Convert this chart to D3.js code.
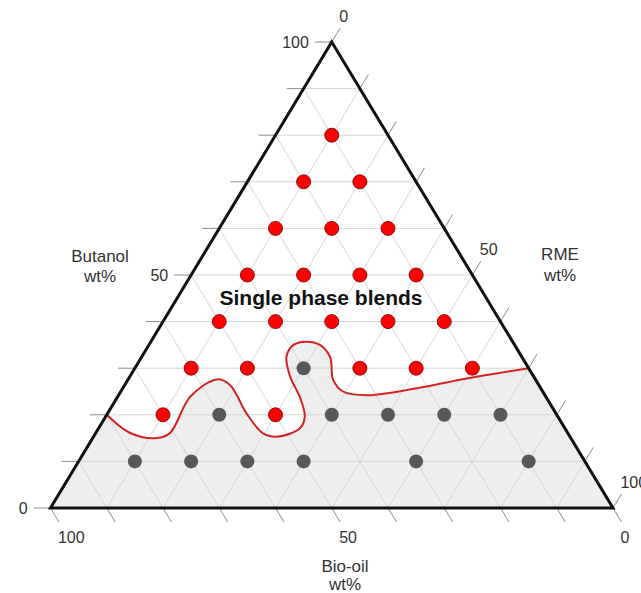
<!DOCTYPE html>
<html>
<head>
<meta charset="utf-8">
<script src="https://cdn.jsdelivr.net/npm/d3@7"></script>
<style>
body { margin: 0; background: #fff; }
text { font-family: "Liberation Sans", Arial, sans-serif; fill: #333; }
</style>
</head>
<body>
<div id="chart"></div>
<script>
// every point is [butanol wt%, RME wt%], bio-oil is what is left
var singlePhase = [
  [80, 10],
  [70, 10], [70, 20],
  [60, 10], [60, 20], [60, 30],
  [50, 10], [50, 20], [50, 30], [50, 40],
  [40, 10], [40, 20], [40, 30], [40, 40], [40, 50],
  [30, 10], [30, 20], [30, 40], [30, 50], [30, 60],
  [20, 10], [20, 30]
];
var twoPhase = [
  [30, 30],
  [20, 20], [20, 40], [20, 50], [20, 60], [20, 70],
  [10, 10], [10, 20], [10, 30], [10, 40], [10, 60], [10, 80]
];
// phase boundary, left edge to right edge
var boundary = [
  [20, 0], [16.1, 6.1], [15, 11.4], [16.1, 13.2], [23.9, 12.9], [27.6, 15.8],
  [26.4, 18.7], [20.3, 24.7], [16, 29.8], [15.3, 32.6], [17.1, 35.8], [19.6, 35.4],
  [23.6, 32.6], [28.2, 28.5], [32.5, 25.7], [35, 25.7], [35.7, 27.7], [35, 30.4],
  [32.4, 33.5], [27.5, 36.5], [25, 39.5], [24.2, 44.1], [25.7, 52.3], [27.8, 60.1],
  [30, 70]
];
var gridSteps = d3.range(10, 100, 10);
var tickSteps = d3.range(0, 101, 10);
var tickLabels = [0, 50, 100];

var width = 641, height = 593;
var x = d3.scaleLinear().domain([0, 100]).range([50.5, 613]);
var y = d3.scaleLinear().domain([0, 100]).range([508, 42]);

// ternary -> screen
function pt(b, r) { return [x(r + b / 2), y(b)]; }

var svg = d3.select("#chart").append("svg")
  .attr("width", width)
  .attr("height", height);

var curve = d3.line()
  .x(d => pt(d[0], d[1])[0])
  .y(d => pt(d[0], d[1])[1])
  .curve(d3.curveCatmullRom.alpha(0.5));

//shaded two phase area
var BL = pt(0, 0), BR = pt(0, 100), T = pt(100, 0);
svg.append("path")
  .attr("d", curve(boundary) + "L" + BR + "L" + BL + "Z")
  .attr("fill", "#eeeeee");

//grid lines
var grid = [];
gridSteps.forEach(function (k) {
  grid.push([pt(k, 0), pt(k, 100 - k)]);        // butanol
  grid.push([pt(0, k), pt(100 - k, k)]);        // rme
  grid.push([pt(0, 100 - k), pt(100 - k, 0)]);  // bio-oil
});
svg.selectAll(".grid")
  .data(grid)
  .enter().append("line")
  .attr("class", "grid")
  .attr("x1", d => d[0][0]).attr("y1", d => d[0][1])
  .attr("x2", d => d[1][0]).attr("y2", d => d[1][1])
  .attr("stroke", "#d6d6d6")
  .attr("stroke-width", 1);

//ticks: grid lines pushed 3 units out of the triangle
var ext = 3;
var ticks = [];
tickSteps.forEach(function (k) {
  ticks.push({ axis: "b", v: k, a: pt(k, 0), b: pt(k, -ext) });
  ticks.push({ axis: "r", v: k, a: pt(100 - k, k), b: pt(100 - k + ext, k) });
  ticks.push({ axis: "o", v: k, a: pt(0, 100 - k), b: pt(-ext, 100 - k + ext) });
});
svg.selectAll(".tick")
  .data(ticks)
  .enter().append("line")
  .attr("class", "tick")
  .attr("x1", d => d.a[0]).attr("y1", d => d.a[1])
  .attr("x2", d => d.b[0]).attr("y2", d => d.b[1])
  .attr("stroke", "#8c8c8c")
  .attr("stroke-width", 1);

var labelled = ticks.filter(d => tickLabels.indexOf(d.v) >= 0);
svg.selectAll(".tlabel")
  .data(labelled)
  .enter().append("text")
  .attr("class", "tlabel")
  .attr("font-size", 16)
  .attr("text-anchor", d => d.axis == "b" ? "end" : "start")
  .attr("x", d => d.axis == "b" ? d.b[0] - 6 : d.axis == "r" ? d.b[0] - 1 : d.b[0] - 1)
  .attr("y", d => d.axis == "b" ? d.b[1] + 5.6 : d.axis == "r" ? d.b[1] - 6 : d.b[1] + 21)
  .text(d => d.v);

//boundary line
svg.append("path")
  .attr("d", curve(boundary))
  .attr("fill", "none")
  .attr("stroke", "#d42222")
  .attr("stroke-width", 2);

//triangle frame
svg.append("path")
  .attr("d", "M" + T + "L" + BR + "L" + BL + "Z")
  .attr("fill", "none")
  .attr("stroke", "#111")
  .attr("stroke-width", 3)
  .attr("stroke-linejoin", "miter");

//points
svg.selectAll(".two")
  .data(twoPhase)
  .enter().append("circle")
  .attr("class", "two")
  .attr("cx", d => pt(d[0], d[1])[0])
  .attr("cy", d => pt(d[0], d[1])[1])
  .attr("r", 7)
  .attr("fill", "#585858");

svg.selectAll(".single")
  .data(singlePhase)
  .enter().append("circle")
  .attr("class", "single")
  .attr("cx", d => pt(d[0], d[1])[0])
  .attr("cy", d => pt(d[0], d[1])[1])
  .attr("r", 7)
  .attr("fill", "#ff0000")
  .attr("stroke", "#8a1010")
  .attr("stroke-width", 1);

//titles
var titles = [
  { lines: ["Butanol", "wt%"], x: 100, y: [262, 282] },
  { lines: ["RME", "wt%"], x: 560, y: [260, 281] },
  { lines: ["Bio-oil", "wt%"], x: 345, y: [572, 590] }
];
titles.forEach(function (t) {
  t.lines.forEach(function (s, i) {
    svg.append("text")
      .attr("x", t.x).attr("y", t.y[i])
      .attr("text-anchor", "middle")
      .attr("font-size", 17)
      .text(s);
  });
});

svg.append("text")
  .attr("x", 321).attr("y", 305)
  .attr("text-anchor", "middle")
  .attr("font-size", 21)
  .attr("font-weight", "bold")
  .style("fill", "#111")
  .text("Single phase blends");
</script>
</body>
</html>
